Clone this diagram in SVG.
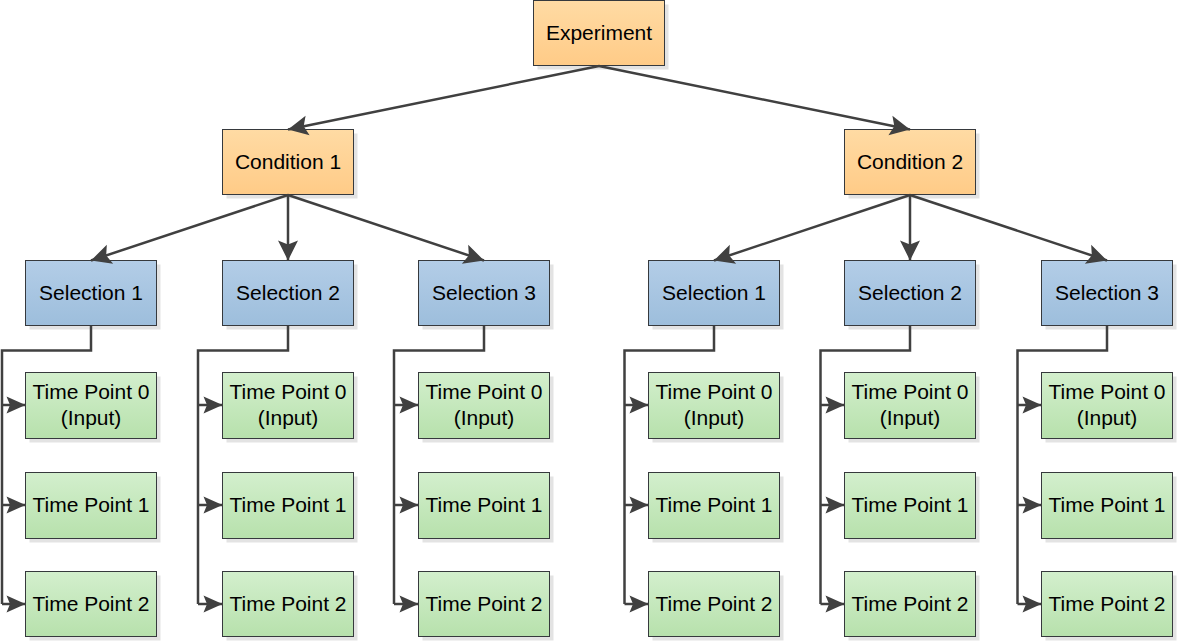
<svg xmlns="http://www.w3.org/2000/svg" width="1177" height="641" viewBox="0 0 1177 641">
<defs>
<linearGradient id="gO" x1="0" y1="0" x2="0" y2="1"><stop offset="0" stop-color="#ffdba4"/><stop offset="1" stop-color="#ffcb87"/></linearGradient>
<linearGradient id="gB" x1="0" y1="0" x2="0" y2="1"><stop offset="0" stop-color="#b3cde7"/><stop offset="1" stop-color="#9dbedc"/></linearGradient>
<linearGradient id="gG" x1="0" y1="0" x2="0" y2="1"><stop offset="0" stop-color="#d3efcd"/><stop offset="1" stop-color="#b7e1ac"/></linearGradient>
<marker id="arr" markerUnits="userSpaceOnUse" viewBox="-22 -12 24 24" refX="0" refY="0" markerWidth="24" markerHeight="24" orient="auto">
<path d="M0,0 L-20,-10 L-16,0 L-20,10 Z" fill="#404040"/>
</marker>
<marker id="arrS" markerUnits="userSpaceOnUse" viewBox="-22 -12 24 24" refX="0" refY="0" markerWidth="24" markerHeight="24" orient="auto">
<path d="M0,0 L-19,-8.5 L-15.5,0 L-19,8.5 Z" fill="#404040"/>
</marker>
<style>
.sh{fill:#e3e3e3}
.box{stroke:#36393d;stroke-width:1}
.o{fill:url(#gO)}
.b{fill:url(#gB)}
.g{fill:url(#gG)}
text{font-family:"Liberation Sans",Arial,Helvetica,sans-serif;font-size:21px;fill:#000;text-anchor:middle}
.c path{fill:none;stroke:#404040;stroke-width:2.5}
.c .a{marker-end:url(#arr)}
.c .s{marker-end:url(#arrS)}
</style>
</defs>
<rect width="1177" height="641" fill="#fff"/>

<g id="experiment"><rect class="sh" x="537.5" y="4.5" width="131" height="65"/><rect class="box o" x="533.5" y="0.5" width="131" height="65"/><text x="599" y="40">Experiment</text></g>
<g id="condition1"><rect class="sh" x="226.5" y="133.5" width="131" height="65"/><rect class="box o" x="222.5" y="129.5" width="131" height="65"/><text x="288" y="169">Condition 1</text></g>
<g id="condition2"><rect class="sh" x="848.5" y="133.5" width="131" height="65"/><rect class="box o" x="844.5" y="129.5" width="131" height="65"/><text x="910" y="169">Condition 2</text></g>

<g id="c1-sel1"><rect class="sh" x="29.5" y="264.5" width="131" height="65"/><rect class="box b" x="25.5" y="260.5" width="131" height="65"/><text x="91" y="300">Selection 1</text></g>
<g id="c1-sel2"><rect class="sh" x="226.5" y="264.5" width="131" height="65"/><rect class="box b" x="222.5" y="260.5" width="131" height="65"/><text x="288" y="300">Selection 2</text></g>
<g id="c1-sel3"><rect class="sh" x="422.5" y="264.5" width="131" height="65"/><rect class="box b" x="418.5" y="260.5" width="131" height="65"/><text x="484" y="300">Selection 3</text></g>
<g id="c2-sel1"><rect class="sh" x="652.5" y="264.5" width="131" height="65"/><rect class="box b" x="648.5" y="260.5" width="131" height="65"/><text x="714" y="300">Selection 1</text></g>
<g id="c2-sel2"><rect class="sh" x="848.5" y="264.5" width="131" height="65"/><rect class="box b" x="844.5" y="260.5" width="131" height="65"/><text x="910" y="300">Selection 2</text></g>
<g id="c2-sel3"><rect class="sh" x="1045.5" y="264.5" width="131" height="65"/><rect class="box b" x="1041.5" y="260.5" width="131" height="65"/><text x="1107" y="300">Selection 3</text></g>

<g id="c1-s1-tp0"><rect class="sh" x="29.5" y="376.5" width="131" height="66"/><rect class="box g" x="25.5" y="372.5" width="131" height="66"/><text x="91" y="399">Time Point 0</text><text x="91" y="425">(Input)</text></g>
<g id="c1-s1-tp1"><rect class="sh" x="29.5" y="476.5" width="131" height="66"/><rect class="box g" x="25.5" y="472.5" width="131" height="66"/><text x="91" y="512">Time Point 1</text></g>
<g id="c1-s1-tp2"><rect class="sh" x="29.5" y="575.5" width="131" height="65"/><rect class="box g" x="25.5" y="571.5" width="131" height="65"/><text x="91" y="611">Time Point 2</text></g>

<g id="c1-s2-tp0"><rect class="sh" x="226.5" y="376.5" width="131" height="66"/><rect class="box g" x="222.5" y="372.5" width="131" height="66"/><text x="288" y="399">Time Point 0</text><text x="288" y="425">(Input)</text></g>
<g id="c1-s2-tp1"><rect class="sh" x="226.5" y="476.5" width="131" height="66"/><rect class="box g" x="222.5" y="472.5" width="131" height="66"/><text x="288" y="512">Time Point 1</text></g>
<g id="c1-s2-tp2"><rect class="sh" x="226.5" y="575.5" width="131" height="65"/><rect class="box g" x="222.5" y="571.5" width="131" height="65"/><text x="288" y="611">Time Point 2</text></g>

<g id="c1-s3-tp0"><rect class="sh" x="422.5" y="376.5" width="131" height="66"/><rect class="box g" x="418.5" y="372.5" width="131" height="66"/><text x="484" y="399">Time Point 0</text><text x="484" y="425">(Input)</text></g>
<g id="c1-s3-tp1"><rect class="sh" x="422.5" y="476.5" width="131" height="66"/><rect class="box g" x="418.5" y="472.5" width="131" height="66"/><text x="484" y="512">Time Point 1</text></g>
<g id="c1-s3-tp2"><rect class="sh" x="422.5" y="575.5" width="131" height="65"/><rect class="box g" x="418.5" y="571.5" width="131" height="65"/><text x="484" y="611">Time Point 2</text></g>

<g id="c2-s1-tp0"><rect class="sh" x="652.5" y="376.5" width="131" height="66"/><rect class="box g" x="648.5" y="372.5" width="131" height="66"/><text x="714" y="399">Time Point 0</text><text x="714" y="425">(Input)</text></g>
<g id="c2-s1-tp1"><rect class="sh" x="652.5" y="476.5" width="131" height="66"/><rect class="box g" x="648.5" y="472.5" width="131" height="66"/><text x="714" y="512">Time Point 1</text></g>
<g id="c2-s1-tp2"><rect class="sh" x="652.5" y="575.5" width="131" height="65"/><rect class="box g" x="648.5" y="571.5" width="131" height="65"/><text x="714" y="611">Time Point 2</text></g>

<g id="c2-s2-tp0"><rect class="sh" x="848.5" y="376.5" width="131" height="66"/><rect class="box g" x="844.5" y="372.5" width="131" height="66"/><text x="910" y="399">Time Point 0</text><text x="910" y="425">(Input)</text></g>
<g id="c2-s2-tp1"><rect class="sh" x="848.5" y="476.5" width="131" height="66"/><rect class="box g" x="844.5" y="472.5" width="131" height="66"/><text x="910" y="512">Time Point 1</text></g>
<g id="c2-s2-tp2"><rect class="sh" x="848.5" y="575.5" width="131" height="65"/><rect class="box g" x="844.5" y="571.5" width="131" height="65"/><text x="910" y="611">Time Point 2</text></g>

<g id="c2-s3-tp0"><rect class="sh" x="1045.5" y="376.5" width="131" height="66"/><rect class="box g" x="1041.5" y="372.5" width="131" height="66"/><text x="1107" y="399">Time Point 0</text><text x="1107" y="425">(Input)</text></g>
<g id="c2-s3-tp1"><rect class="sh" x="1045.5" y="476.5" width="131" height="66"/><rect class="box g" x="1041.5" y="472.5" width="131" height="66"/><text x="1107" y="512">Time Point 1</text></g>
<g id="c2-s3-tp2"><rect class="sh" x="1045.5" y="575.5" width="131" height="65"/><rect class="box g" x="1041.5" y="571.5" width="131" height="65"/><text x="1107" y="611">Time Point 2</text></g>

<g id="connectors" class="c">
<path class="a" d="M599,66 L288,129.5"/>
<path class="a" d="M599,66 L910,129.5"/>
<path class="a" d="M288,195 L91,260.5"/>
<path class="a" d="M288,195 L288,260.5"/>
<path class="a" d="M288,195 L484,260.5"/>
<path class="a" d="M910,195 L714,260.5"/>
<path class="a" d="M910,195 L910,260.5"/>
<path class="a" d="M910,195 L1107,260.5"/>

<path d="M91,326 V350.5 H2 V604"/>
<path class="s" d="M2,405 H25.5"/><path class="s" d="M2,505 H25.5"/><path class="s" d="M2,604 H25.5"/>
<path d="M288,326 V350.5 H198 V604"/>
<path class="s" d="M198,405 H222.5"/><path class="s" d="M198,505 H222.5"/><path class="s" d="M198,604 H222.5"/>
<path d="M484,326 V350.5 H394 V604"/>
<path class="s" d="M394,405 H418.5"/><path class="s" d="M394,505 H418.5"/><path class="s" d="M394,604 H418.5"/>
<path d="M714,326 V350.5 H624.5 V604"/>
<path class="s" d="M624.5,405 H648.5"/><path class="s" d="M624.5,505 H648.5"/><path class="s" d="M624.5,604 H648.5"/>
<path d="M910,326 V350.5 H820.5 V604"/>
<path class="s" d="M820.5,405 H844.5"/><path class="s" d="M820.5,505 H844.5"/><path class="s" d="M820.5,604 H844.5"/>
<path d="M1107,326 V350.5 H1017.5 V604"/>
<path class="s" d="M1017.5,405 H1041.5"/><path class="s" d="M1017.5,505 H1041.5"/><path class="s" d="M1017.5,604 H1041.5"/>
</g>
</svg>
